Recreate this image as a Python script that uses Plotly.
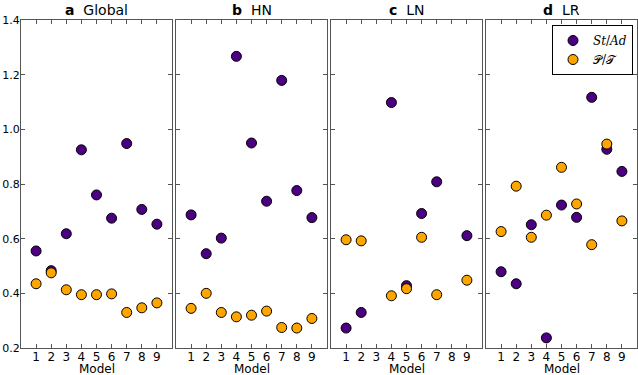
import plotly.graph_objects as go
from plotly.subplots import make_subplots

models = [1, 2, 3, 4, 5, 6, 7, 8, 9]
panel_letters = ["a", "b", "c", "d"]
panel_names = ["Global", "HN", "LN", "LR"]

st_ad = {
    "Global": [0.555, 0.483, 0.618, 0.925, 0.760, 0.675, 0.948, 0.707, 0.653],
    "HN": [0.687, 0.545, 0.602, 1.267, 0.950, 0.737, 1.179, 0.776, 0.677],
    "LN": [0.273, 0.330, None, 1.098, 0.428, 0.692, 0.808, None, 0.611],
    "LR": [0.479, 0.435, 0.651, 0.237, 0.723, 0.678, 1.117, 0.927, 0.846],
}
p_t = {
    "Global": [0.435, 0.475, 0.413, 0.395, 0.395, 0.398, 0.330, 0.347, 0.365],
    "HN": [0.345, 0.400, 0.330, 0.314, 0.320, 0.335, 0.275, 0.273, 0.308],
    "LN": [0.596, 0.592, None, 0.391, 0.417, 0.605, 0.395, None, 0.448],
    "LR": [0.626, 0.792, 0.605, 0.686, 0.861, 0.727, 0.578, 0.946, 0.665],
}

y_ticks = [0.2, 0.4, 0.6, 0.8, 1.0, 1.2, 1.4]
PURPLE = "#4B0082"
ORANGE = "#FFA500"
FONT = "DejaVu Sans"
AXC = "#555555"

W, H = 638, 375
L, R, T, B = 21, 1, 20, 27
pw = W - L - R
ph = H - T - B
gap = 4

fig = make_subplots(rows=1, cols=4, shared_yaxes=True, horizontal_spacing=gap / pw)

for i, name in enumerate(panel_names):
    col = i + 1
    fig.add_trace(go.Scatter(
        x=models, y=st_ad[name], mode="markers",
        marker=dict(color=PURPLE, size=10, line=dict(color="black", width=1)),
        name="<i>St</i>/<i>Ad</i>", showlegend=(i == 3)), row=1, col=col)
    fig.add_trace(go.Scatter(
        x=models, y=p_t[name], mode="markers",
        marker=dict(color=ORANGE, size=10, line=dict(color="black", width=1)),
        name="𝒫/𝒯", showlegend=(i == 3)), row=1, col=col)
    fig.update_xaxes(range=[0, 10], tickvals=models, ticks="inside", ticklen=4,
                     showline=True, mirror="allticks", linecolor=AXC, linewidth=1.2,
                     tickcolor=AXC, showgrid=False, zeroline=False, automargin=False,
                     ticklabelstandoff=-3,
                     tickfont=dict(family=FONT, size=12, color="black"),
                     row=1, col=col)
    fig.update_yaxes(range=[0.2, 1.4], tickvals=y_ticks,
                     ticktext=[f"{v:.1f}" for v in y_ticks], ticks="inside", ticklen=4,
                     showline=True, mirror="allticks", linecolor=AXC, linewidth=1.2,
                     tickcolor=AXC, showgrid=False, zeroline=False, automargin=False,
                     ticklabelstandoff=-2,
                     tickfont=dict(family=FONT, size=11, color="black"),
                     row=1, col=col)
    xa = fig.layout["xaxis" if col == 1 else f"xaxis{col}"]
    d0, d1 = xa.domain
    xc = (d0 + d1) / 2
    fig.add_annotation(
        x=xc, y=1, xref="paper", yref="paper", xanchor="center", yanchor="bottom",
        yshift=0, showarrow=False,
        text=f"<b>{panel_letters[i]}</b>  {name}",
        font=dict(family=FONT, size=14, color="black"))
    fig.add_annotation(
        x=xc, y=0, xref="paper", yref="paper", xanchor="center", yanchor="top",
        yshift=-12, showarrow=False, text="Model",
        font=dict(family=FONT, size=12, color="black"))

fig.update_layout(
    width=W, height=H, margin=dict(l=L, r=R, t=T, b=B, autoexpand=False),
    paper_bgcolor="white", plot_bgcolor="white",
    font=dict(family=FONT, size=12, color="black"),
    legend=dict(x=(633 - L) / pw, y=1 - 5 / ph, xanchor="right", yanchor="top",
                bordercolor="black", borderwidth=1, bgcolor="white",
                font=dict(family="DejaVu Serif", size=12), itemwidth=30,
                tracegroupgap=0),
)

fig.write_html("out.html", config={"displayModeBar": False},
               post_script="document.body.style.margin='0';")
